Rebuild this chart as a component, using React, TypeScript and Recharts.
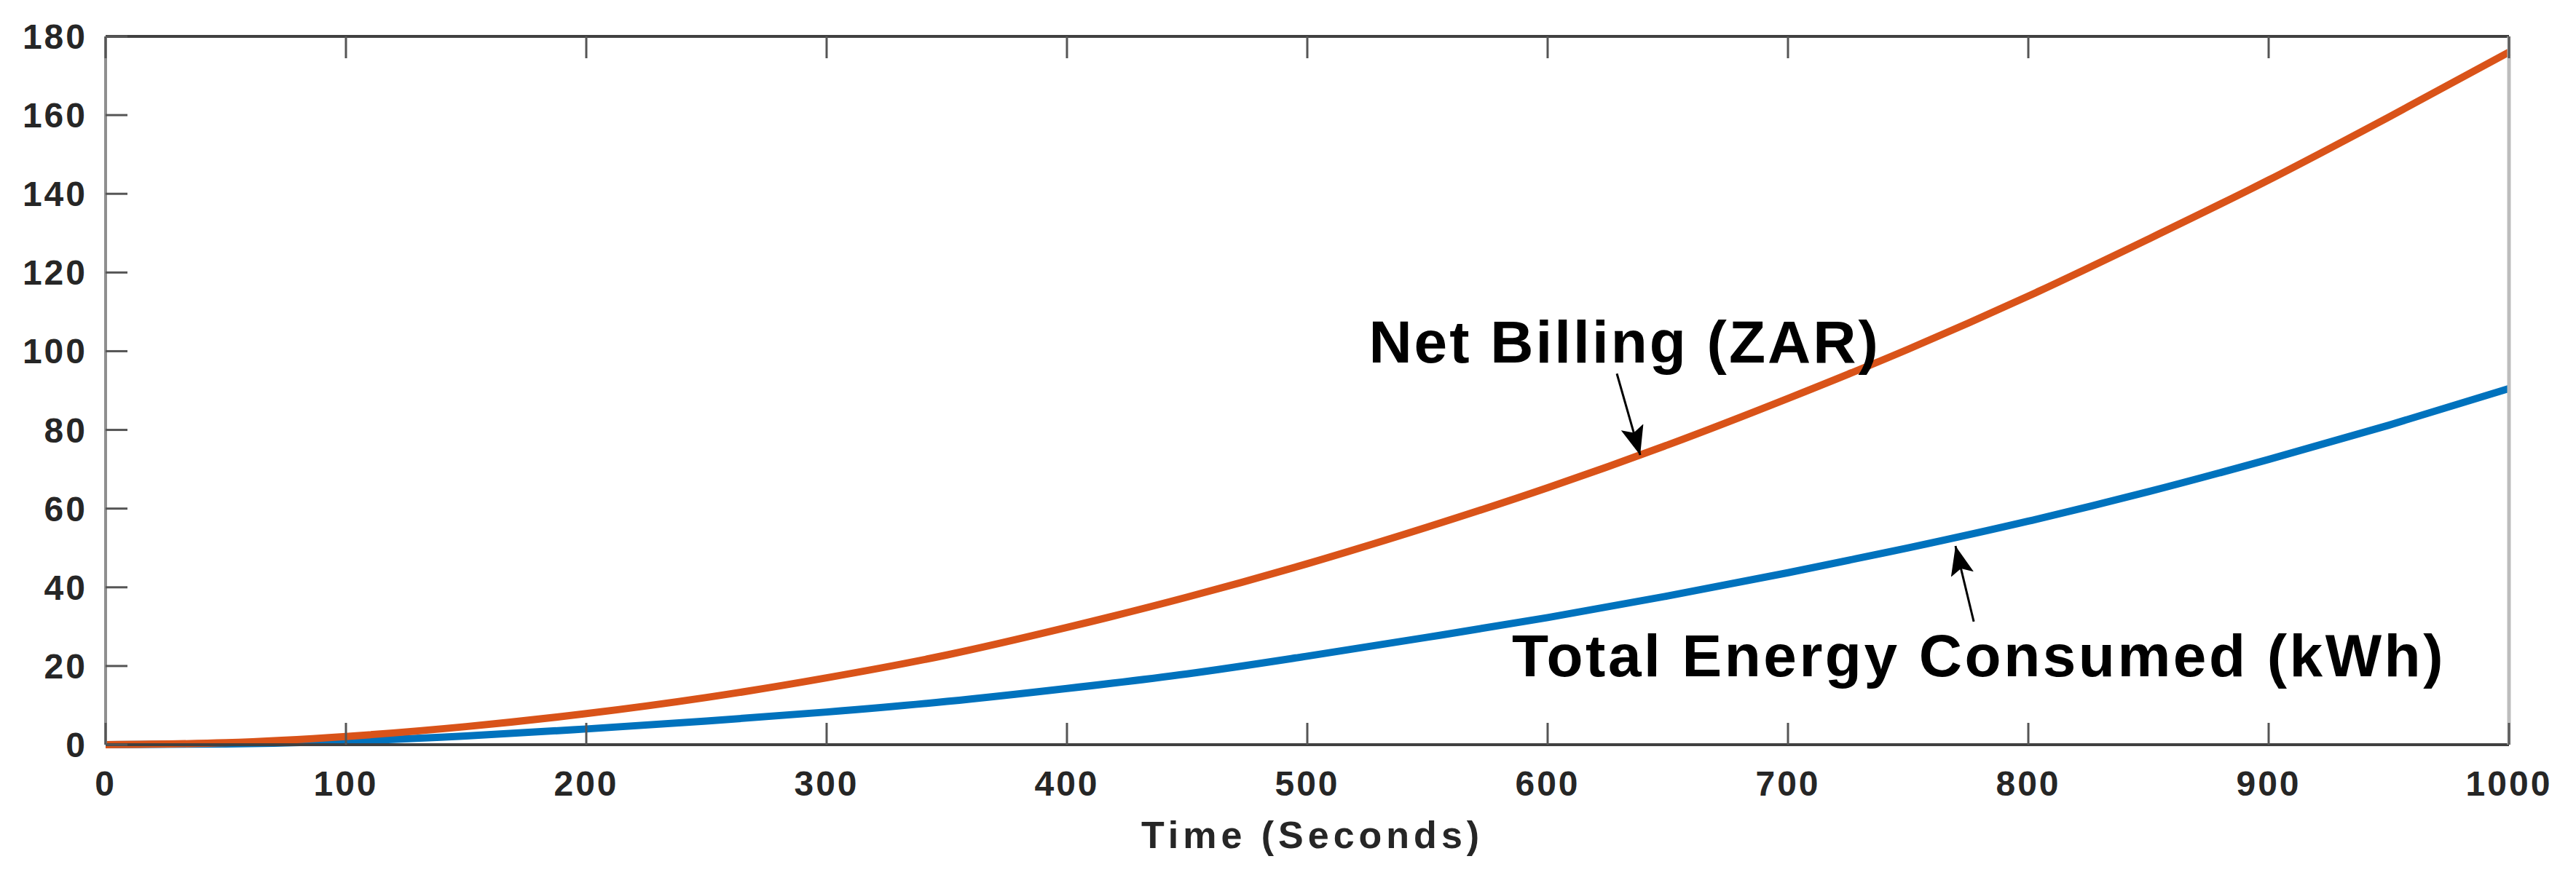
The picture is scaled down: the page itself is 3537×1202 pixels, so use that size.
import React from 'react';
import { LineChart, Line, XAxis, YAxis, ReferenceLine, ReferenceDot } from 'recharts';

// time in seconds
const time = [0, 50, 100, 150, 200, 250, 300, 350, 400, 450, 500, 550, 600, 650, 700, 750, 800, 850, 900, 950, 1000];
// Total Energy Consumed (kWh)
const energy = [0, 0.2, 0.9, 2.2, 4.0, 6.0, 8.3, 11.0, 14.3, 18.0, 22.5, 27.3, 32.3, 37.8, 43.7, 50.0, 56.8, 64.3, 72.5, 81.2, 90.5];
// Net Billing (ZAR)
const billing = [0, 0.5, 2.1, 4.6, 7.9, 12.0, 17.0, 22.8, 29.8, 37.5, 46.0, 55.3, 65.3, 76.2, 88.0, 100.5, 114.0, 128.5, 143.5, 159.5, 176.0];

const xTicks = [0, 100, 200, 300, 400, 500, 600, 700, 800, 900, 1000];
const yTicks = [0, 20, 40, 60, 80, 100, 120, 140, 160, 180];

const data = time.map((t, i) => ({ t, energy: energy[i], billing: billing[i] }));

const FONT = "'Liberation Sans', Arial, Helvetica, sans-serif";
const TICK_LEN = 30;
const TICK_COLOR = '#555555';
const LABEL_COLOR = '#262626';

const BottomTick = (props: any) => {
  const { x, y, payload } = props;
  return (
    <g>
      <line x1={x} y1={y} x2={x} y2={y - TICK_LEN} stroke={TICK_COLOR} strokeWidth={3} />
      <text x={x} y={y + 70} textAnchor="middle" fill={LABEL_COLOR} fontFamily={FONT} fontWeight={700} fontSize={48} letterSpacing={3}>
        {payload.value}
      </text>
    </g>
  );
};

const TopTick = (props: any) => {
  const { x, y } = props;
  return <line x1={x} y1={y} x2={x} y2={y + TICK_LEN} stroke={TICK_COLOR} strokeWidth={3} />;
};

const LeftTick = (props: any) => {
  const { x, y, payload } = props;
  return (
    <g>
      <line x1={x} y1={y} x2={x + TICK_LEN} y2={y} stroke={TICK_COLOR} strokeWidth={3} />
      <text x={x - 25} y={y + 17} textAnchor="end" fill={LABEL_COLOR} fontFamily={FONT} fontWeight={700} fontSize={48} letterSpacing={3}>
        {payload.value}
      </text>
    </g>
  );
};

const RightTick = (props: any) => {
  const { x, y } = props;
  return <line x1={x} y1={y} x2={x - TICK_LEN} y2={y} stroke={TICK_COLOR} strokeWidth={3} />;
};

const annotationLabel = (value: string, fontSize: number, letterSpacing: number) => ({
  value,
  position: 'center' as const,
  fill: '#000000',
  fontSize,
  fontWeight: 700,
  fontFamily: FONT,
  letterSpacing,
});

export default function App() {
  return (
    <div style={{ position: 'absolute', left: 0, top: 0, width: 3537, height: 1202, background: '#fff' }}>
      <svg width={0} height={0} style={{ position: 'absolute' }}>
        <defs>
          <marker id="arrowHead" markerUnits="userSpaceOnUse" markerWidth={40} markerHeight={32} refX={40} refY={16} orient="auto">
            <path d="M0,0 L40,16 L0,32 L8,16 Z" fill="#000" />
          </marker>
        </defs>
      </svg>
      <LineChart width={3537} height={1202} data={data} margin={{ top: 49, right: 91, left: 0, bottom: 0 }}>
        <XAxis
          xAxisId="x"
          dataKey="t"
          type="number"
          domain={[0, 1000]}
          ticks={xTicks}
          height={179}
          tickSize={0}
          tickMargin={0}
          tickLine={false}
          tick={BottomTick}
          axisLine={{ stroke: '#404040', strokeWidth: 4 }}
          label={{ value: 'Time (Seconds)', position: 'insideBottom', offset: 37, dx: 7, fill: LABEL_COLOR, fontSize: 52, fontWeight: 700, fontFamily: FONT, letterSpacing: 6 }}
        />
        <XAxis
          xAxisId="top"
          orientation="top"
          dataKey="t"
          type="number"
          domain={[0, 1000]}
          ticks={xTicks}
          height={1}
          tickSize={0}
          tickMargin={0}
          tickLine={false}
          tick={TopTick}
          axisLine={{ stroke: '#404040', strokeWidth: 4 }}
        />
        <YAxis
          yAxisId="y"
          type="number"
          domain={[0, 180]}
          ticks={yTicks}
          width={145}
          tickSize={0}
          tickMargin={0}
          tickLine={false}
          tick={LeftTick}
          axisLine={{ stroke: '#8f8f8f', strokeWidth: 4 }}
        />
        <YAxis
          yAxisId="yr"
          orientation="right"
          type="number"
          domain={[0, 180]}
          ticks={yTicks}
          width={1}
          tickSize={0}
          tickMargin={0}
          tickLine={false}
          tick={RightTick}
          axisLine={{ stroke: '#bdbdbd', strokeWidth: 5 }}
        />
        <Line xAxisId="x" yAxisId="y" type="monotone" dataKey="energy" stroke="#0072BD" strokeWidth={10} dot={false} isAnimationActive={false} />
        <Line xAxisId="x" yAxisId="y" type="monotone" dataKey="billing" stroke="#D95319" strokeWidth={10} dot={false} isAnimationActive={false} />
        <ReferenceLine
          xAxisId="x"
          yAxisId="y"
          segment={[{ x: 628.8, y: 94.3 }, { x: 638.5, y: 73.6 }]}
          stroke="#000"
          strokeWidth={3}
          markerEnd="url(#arrowHead)"
        />
        <ReferenceLine
          xAxisId="x"
          yAxisId="y"
          segment={[{ x: 777.3, y: 31.3 }, { x: 769.7, y: 50.5 }]}
          stroke="#000"
          strokeWidth={3}
          markerEnd="url(#arrowHead)"
        />
        <ReferenceDot xAxisId="x" yAxisId="y" x={632} y={102.6} r={0} fill="none" stroke="none" label={annotationLabel('Net Billing (ZAR)', 82, 3)} />
        <ReferenceDot xAxisId="x" yAxisId="y" x={779.4} y={22.75} r={0} fill="none" stroke="none" label={annotationLabel('Total Energy Consumed (kWh)', 82, 3.5)} />
      </LineChart>
    </div>
  );
}
